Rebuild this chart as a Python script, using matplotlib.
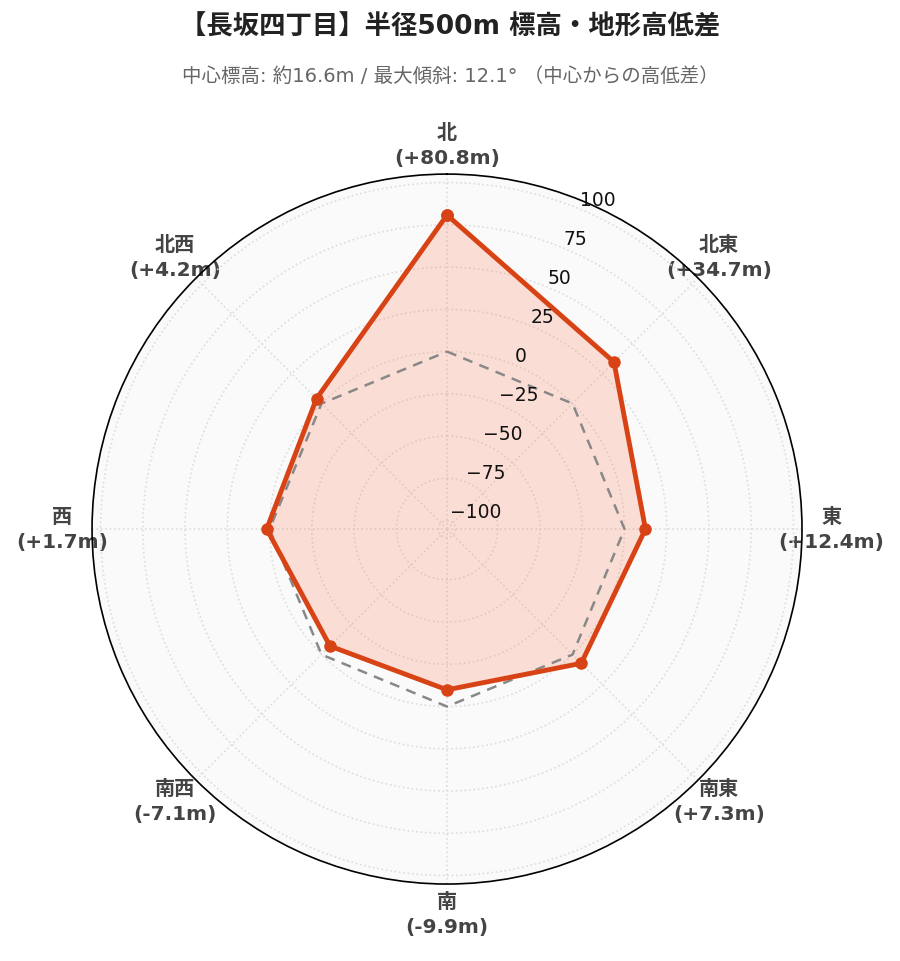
import numpy as np
import matplotlib
matplotlib.use("Agg")
import matplotlib.pyplot as plt

plt.rcParams['font.family'] = ['DejaVu Sans', 'Noto Sans CJK JP']

# data
directions = ['北', '北東', '東', '南東', '南', '南西', '西', '北西']
angles_deg = [0, 45, 90, 135, 180, 225, 270, 315]
diffs = [80.8, 34.7, 12.4, 7.3, -9.9, -7.1, 1.7, 4.2]
ref_line = [0, 0, 0, 0, 0, 0, 0, 0]
r_ticks = [-100, -75, -50, -25, 0, 25, 50, 75, 100]
r_lim = max(abs(v) for v in diffs) * 1.3

title = '【長坂四丁目】半径500m 標高・地形高低差'
subtitle = '中心標高: 約16.6m / 最大傾斜: 12.1° （中心からの高低差）'

fig = plt.figure(figsize=(9, 9.62), dpi=100)
ax = fig.add_axes([0.1022, 0.08, 0.789, 0.738], projection='polar')
ax.set_theta_zero_location('N')
ax.set_theta_direction(-1)
ax.set_ylim(-r_lim, r_lim)
ax.set_facecolor('#fafafa')

theta = np.deg2rad(angles_deg + [angles_deg[0]])
vals = diffs + [diffs[0]]
refs = ref_line + [ref_line[0]]

ax.plot(theta, refs, color='#888888', lw=1.8, ls=(0, (4, 3)), zorder=3)
ax.fill(theta, vals, color='#ff7043', alpha=0.2, lw=0, zorder=2)
ax.plot(theta, vals, color='#d84315', lw=3.5, marker='o', ms=8,
        solid_joinstyle='miter', zorder=4)

ax.set_xticks(np.deg2rad(angles_deg))
ax.set_xticklabels([])
ax.set_yticks(r_ticks)
ax.set_yticklabels([])
ax.grid(True, color='#dddddd', ls=':', lw=1.2)
ax.spines['polar'].set_color('black')
ax.spines['polar'].set_linewidth(1.2)

# radial tick labels
for t in r_ticks:
    lab = str(t).replace('-', '\u2212')
    ax.text(np.deg2rad(22.5), t, lab, ha='left', va='bottom', fontsize=13.5,
            color='#111111', zorder=5)

# direction labels
for a, d, v in zip(angles_deg, directions, diffs):
    ax.text(np.deg2rad(a), r_lim + 17.5, f'{d}\n({v:+.1f}m)', ha='center', va='center',
            fontsize=14.5, fontweight='bold', color='#444444', linespacing=1.4,
            clip_on=False, zorder=0)

fig.text(0.5, 0.971, title, ha='center', va='center', fontsize=19,
         fontweight='bold', color='#222222')
fig.text(0.5, 0.921, subtitle, ha='center', va='center', fontsize=14,
         color='#666666')

fig.savefig('out.png', dpi=100)
